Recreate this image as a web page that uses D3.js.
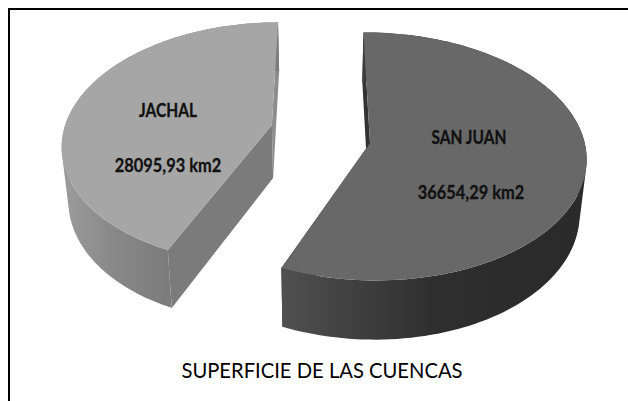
<!DOCTYPE html>
<html><head><meta charset="utf-8">
<script src="https://cdn.jsdelivr.net/npm/d3@7/dist/d3.min.js"></script>
<style>html,body{margin:0;padding:0;background:#fff}svg{display:block}</style>
</head><body><svg id="c" width="628" height="401"></svg>
<script>
const categories = ["SAN JUAN", "JACHAL"];
const areas = [36654.29, 28095.93];
const areaLabels = ["36654,29 km2", "28095,93 km2"];
const chartTitle = "SUPERFICIE DE LAS CUENCAS";
const topColors = ["#686868", "#a6a6a6"];
const cutColors = ["#333333", "#8d8d8d"];
const frontCutColors = ["#333333", "#7b7b7b"];
const rimStops = [["#505050", "#2e2e2e", "#2a2a2a"], ["#9c9c9c", "#888888", "#7c7c7c"]];
const offsets = [[0.233, 0.075], [-0.233, -0.075]];
const scaleX = [213, 209];
const persp = [0.1066, 0.15];
const rotation = [-0.009, 0];
const labelPos = [[469, 144, 471, 199], [168, 117, 168, 172]];

const W = 628, H = 401;
const svg = d3.select("#c");
svg.append("rect").attr("width", W).attr("height", H).attr("fill", "#fff");
svg.append("path").attr("d", `M9,${H} L9,9 L${W},9`).attr("fill", "none").attr("stroke", "#000").attr("stroke-width", 2);

const pie = d3.pie().sort(null).startAngle(0).endAngle(2 * Math.PI);
const arcs = pie(areas);

const vx = 320, vy = 134, b = 120.6, drop = 53;
function project(theta, i, r, bottom) {
  const t = theta + rotation[i];
  const u = r * Math.sin(t) + offsets[i][0];
  const v = -r * Math.cos(t) + offsets[i][1];
  const w = 1 - persp[i] * v;
  let x = vx + scaleX[i] * u / w;
  let y = vy + b * v / w;
  if (bottom) { x = vx + (x - vx) * 0.974; y = y + drop + (y - 125) * 0.04; }
  return [x, y];
}
const line = d3.line();
const defs = svg.append("defs");

function label(g, txt, x, y, size) {
  g.append("text").text(txt)
    .attr("transform", `translate(${x},${y}) scale(1,1.18)`)
    .attr("text-anchor", "middle").attr("font-family", "Lato").attr("font-weight", 700)
    .attr("font-size", size).attr("fill", "#111").attr("stroke", "#111").attr("stroke-width", 0.25);
}

// Draw Jachal first, then San Juan
[1, 0].forEach(i => {
  const d = arcs[i];
  const ts = d3.range(0, 121).map(n => d.startAngle + (d.endAngle - d.startAngle) * n / 120);
  const topArc = ts.map(t => project(t, i, 1, false));
  const botArc = ts.map(t => project(t, i, 1, true));
  const apexT = project(0, i, 0, false), apexB = project(0, i, 0, true);
  const g = svg.append("g");

  const xs = topArc.map(p => p[0]).concat(botArc.map(p => p[0]));
  const grad = defs.append("linearGradient").attr("id", "rim" + i)
    .attr("gradientUnits", "userSpaceOnUse")
    .attr("x1", i === 0 ? project(d.endAngle, i, 1, false)[0] : d3.min(xs)).attr("y1", 0)
    .attr("x2", i === 0 ? d3.max(xs) : project(d.startAngle, i, 1, false)[0]).attr("y2", 0);
  rimStops[i].forEach((c, n) => grad.append("stop").attr("offset", n / (rimStops[i].length - 1)).attr("stop-color", c));

  // far cut face (the sliver next to the 12 o'clock edge)
  const farAngle = i === 0 ? d.startAngle : d.endAngle;
  g.append("path").attr("fill", cutColors[i])
    .attr("d", line([apexT, project(farAngle, i, 1, false), project(farAngle, i, 1, true), apexB]) + "Z");
  // near cut face
  const nearAngle = i === 0 ? d.endAngle : d.startAngle;
  g.append("path").attr("fill", frontCutColors[i])
    .attr("d", line([apexT, project(nearAngle, i, 1, false), project(nearAngle, i, 1, true), apexB]) + "Z");
  // rim: one path of same-winding strips, so the union fills without seams
  const rimD = d3.range(0, 120).map(n => {
    const q = [topArc[n], topArc[n + 1], botArc[n + 1], botArc[n]];
    if (d3.polygonArea(q) < 0) q.reverse();
    return line(q) + "Z";
  }).join("");
  g.append("path").attr("fill", `url(#rim${i})`).attr("d", rimD);
  // top
  g.append("path").attr("fill", topColors[i])
    .attr("d", line([apexT].concat(topArc)) + "Z");

  label(g, categories[i], labelPos[i][0], labelPos[i][1], 15.5);
  label(g, areaLabels[i], labelPos[i][2], labelPos[i][3], 16.4);
});

svg.append("text").text(chartTitle).attr("x", 322).attr("y", 378).attr("text-anchor", "middle")
  .attr("font-family", "Lato").attr("font-size", 20.2).attr("fill", "#000");
</script></body></html>
